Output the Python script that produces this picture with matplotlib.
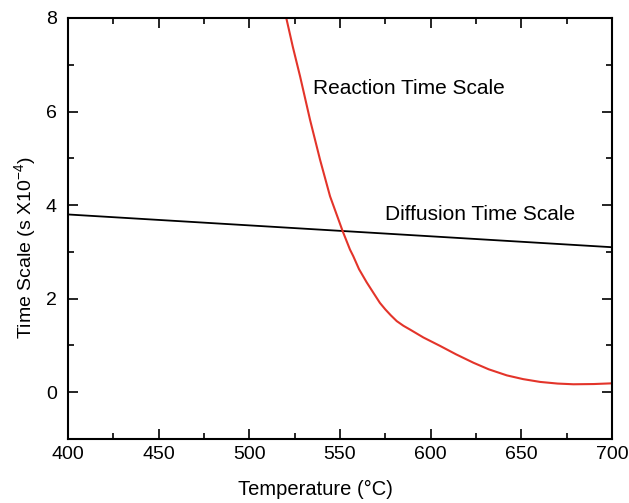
import numpy as np
import matplotlib.pyplot as plt
from matplotlib.ticker import MultipleLocator

plt.rcParams['font.family'] = ['Liberation Sans', 'DejaVu Sans']

# red curve
react_T = [519.5, 520.2, 524, 528, 533.5, 539, 544.5, 551.5, 555.5, 557.3, 560.5, 564.7, 568.5,
           572, 575, 578, 581.3, 585, 588.6, 596, 605.2, 614, 623.6, 632, 642, 651, 660.4,
           670, 678.7, 690, 700]
react_y = [8.15, 8.03, 7.38, 6.75, 5.82, 4.97, 4.19, 3.44, 3.05, 2.91, 2.63, 2.35, 2.12,
           1.91, 1.77, 1.645, 1.52, 1.42, 1.34, 1.17, 0.99, 0.81, 0.63, 0.49, 0.36, 0.28, 0.22,
           0.185, 0.17, 0.175, 0.19]

# black line
diff_T = [400, 700]
diff_y = [3.8, 3.1]

fig = plt.figure(figsize=(6.29, 5.03), dpi=100)
ax = fig.add_axes([68/629, 1-439/503, (612-68)/629, (439-18)/503])

ax.plot(diff_T, diff_y, color='black', lw=1.3)
ax.plot(react_T, react_y, color='#e3342a', lw=1.5)

ax.text(535, 6.5, 'Reaction Time Scale', va='center', ha='left', fontsize=15)
ax.text(575, 3.8, 'Diffusion Time Scale', va='center', ha='left', fontsize=15)

ax.set_xlim(400, 700)
ax.set_ylim(-1, 8)
ax.xaxis.set_major_locator(MultipleLocator(50))
ax.xaxis.set_minor_locator(MultipleLocator(25))
ax.yaxis.set_major_locator(MultipleLocator(2))
ax.yaxis.set_minor_locator(MultipleLocator(1))
ax.tick_params(which='both', direction='in', top=True, right=True, width=1.2, labelsize=14)
ax.tick_params(which='major', length=7)
ax.tick_params(which='minor', length=4)
ax.tick_params(axis='x', pad=5)
ax.tick_params(axis='y', pad=8)
for s in ax.spines.values():
    s.set_linewidth(1.5)

ax.set_xlabel('Temperature (°C)', fontsize=14.5, labelpad=12)
ax.set_ylabel('Time Scale (s X10$\\mathregular{^{-4}}$)', fontsize=14, labelpad=6)
ax.xaxis.label.set_x(0.454)
ax.yaxis.label.set_y(0.454)

fig.savefig('out.png', dpi=100)
